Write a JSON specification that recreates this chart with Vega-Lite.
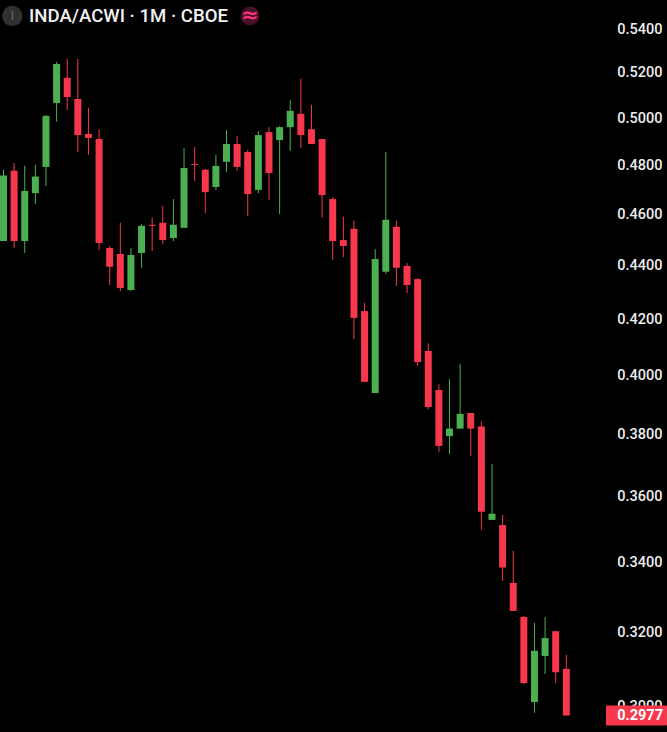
{
  "$schema": "https://vega.github.io/schema/vega-lite/v6.json",
  "width": 667,
  "height": 732,
  "padding": 0,
  "autosize": {"type": "none"},
  "background": "#000000",
  "config": {"view": {"stroke": null}},
  "datasets": {
    "candles": [
      {"i":0,"open":0.4494,"high":0.4781,"low":0.4494,"close":0.4757},
      {"i":1,"open":0.4777,"high":0.4809,"low":0.4467,"close":0.4494},
      {"i":2,"open":0.4494,"high":0.4798,"low":0.4448,"close":0.4694},
      {"i":3,"open":0.4685,"high":0.4802,"low":0.4641,"close":0.4753},
      {"i":4,"open":0.4793,"high":0.5014,"low":0.4714,"close":0.5010},
      {"i":5,"open":0.5066,"high":0.5250,"low":0.4985,"close":0.5241},
      {"i":6,"open":0.5179,"high":0.5264,"low":0.5036,"close":0.5093},
      {"i":7,"open":0.5084,"high":0.5264,"low":0.4855,"close":0.4927},
      {"i":8,"open":0.4932,"high":0.5045,"low":0.4843,"close":0.4915},
      {"i":9,"open":0.4910,"high":0.4952,"low":0.4459,"close":0.4487},
      {"i":10,"open":0.4467,"high":0.4475,"low":0.4326,"close":0.4395},
      {"i":11,"open":0.4444,"high":0.4566,"low":0.4303,"close":0.4315},
      {"i":12,"open":0.4307,"high":0.4467,"low":0.4303,"close":0.4440},
      {"i":13,"open":0.4448,"high":0.4562,"low":0.4391,"close":0.4554},
      {"i":14,"open":0.4558,"high":0.4586,"low":0.4455,"close":0.4554},
      {"i":15,"open":0.4566,"high":0.4633,"low":0.4482,"close":0.4498},
      {"i":16,"open":0.4506,"high":0.4661,"low":0.4494,"close":0.4558},
      {"i":17,"open":0.4546,"high":0.4872,"low":0.4546,"close":0.4788},
      {"i":18,"open":0.4805,"high":0.4876,"low":0.4735,"close":0.4801},
      {"i":19,"open":0.4781,"high":0.4785,"low":0.4605,"close":0.4689},
      {"i":20,"open":0.4710,"high":0.4843,"low":0.4698,"close":0.4797},
      {"i":21,"open":0.4814,"high":0.4948,"low":0.4772,"close":0.4889},
      {"i":22,"open":0.4889,"high":0.4923,"low":0.4777,"close":0.4793},
      {"i":23,"open":0.4855,"high":0.4864,"low":0.4593,"close":0.4681},
      {"i":24,"open":0.4698,"high":0.4944,"low":0.4685,"close":0.4927},
      {"i":25,"open":0.4940,"high":0.4961,"low":0.4657,"close":0.4768},
      {"i":26,"open":0.4906,"high":0.4965,"low":0.4601,"close":0.4961},
      {"i":27,"open":0.4961,"high":0.5080,"low":0.4860,"close":0.5032},
      {"i":28,"open":0.5019,"high":0.5175,"low":0.4872,"close":0.4927},
      {"i":29,"open":0.4952,"high":0.5058,"low":0.4889,"close":0.4889},
      {"i":30,"open":0.4910,"high":0.4910,"low":0.4586,"close":0.4677},
      {"i":31,"open":0.4661,"high":0.4669,"low":0.4421,"close":0.4494},
      {"i":32,"open":0.4498,"high":0.4590,"low":0.4432,"close":0.4475},
      {"i":33,"open":0.4542,"high":0.4574,"low":0.4128,"close":0.4204},
      {"i":34,"open":0.4229,"high":0.4259,"low":0.3977,"close":0.3977},
      {"i":35,"open":0.3939,"high":0.4463,"low":0.3939,"close":0.4425},
      {"i":36,"open":0.4376,"high":0.4855,"low":0.4368,"close":0.4578},
      {"i":37,"open":0.4550,"high":0.4574,"low":0.4322,"close":0.4391},
      {"i":38,"open":0.4398,"high":0.4409,"low":0.4296,"close":0.4326},
      {"i":39,"open":0.4348,"high":0.4352,"low":0.4032,"close":0.4046},
      {"i":40,"open":0.4085,"high":0.4113,"low":0.3884,"close":0.3891},
      {"i":41,"open":0.3949,"high":0.3969,"low":0.3742,"close":0.3762},
      {"i":42,"open":0.3794,"high":0.3986,"low":0.3736,"close":0.3819},
      {"i":43,"open":0.3819,"high":0.4040,"low":0.3819,"close":0.3868},
      {"i":44,"open":0.3871,"high":0.3871,"low":0.3729,"close":0.3819},
      {"i":45,"open":0.3826,"high":0.3843,"low":0.3498,"close":0.3553},
      {"i":46,"open":0.3528,"high":0.3704,"low":0.3528,"close":0.3547},
      {"i":47,"open":0.3512,"high":0.3543,"low":0.3346,"close":0.3385},
      {"i":48,"open":0.3340,"high":0.3434,"low":0.3260,"close":0.3260},
      {"i":49,"open":0.3243,"high":0.3246,"low":0.3059,"close":0.3062},
      {"i":50,"open":0.3012,"high":0.3226,"low":0.2984,"close":0.3149},
      {"i":51,"open":0.3135,"high":0.3243,"low":0.3086,"close":0.3184},
      {"i":52,"open":0.3203,"high":0.3203,"low":0.3062,"close":0.3091},
      {"i":53,"open":0.3100,"high":0.3138,"low":0.2977,"close":0.2977}
    ]
  },
  "layer": [
    {
      "data": {"name": "candles"},
      "mark": {"type": "rule", "strokeWidth": 1, "clip": true},
      "encoding": {
        "x": {
          "field": "i",
          "type": "quantitative",
          "scale": {"domain": [-0.33, 62.48], "nice": false, "zero": false, "padding": 0},
          "axis": null
        },
        "y": {
          "field": "high",
          "type": "quantitative",
          "title": null,
          "scale": {"type": "log", "domain": [0.29347, 0.55401], "nice": false, "zero": false, "padding": 0},
          "axis": {
            "orient": "right",
            "values": [0.30, 0.32, 0.34, 0.36, 0.38, 0.40, 0.42, 0.44, 0.46, 0.48, 0.50, 0.52, 0.54],
            "format": ".4f",
            "grid": false,
            "domain": false,
            "ticks": false,
            "labelAlign": "right",
            "labelPadding": -5,
            "labelFont": "Roboto",
            "labelFontSize": 14.5,
            "labelFontWeight": 500,
            "labelColor": "#EDEDED",
            "labelOverlap": false,
            "labelBound": false
          }
        },
        "y2": {"field": "low"},
        "color": {
          "condition": {"test": "datum.close >= datum.open", "value": "#4CAF50"},
          "value": "#F7374B"
        }
      }
    },
    {
      "data": {"name": "candles"},
      "mark": {"type": "bar", "size": 7, "clip": true},
      "encoding": {
        "x": {"field": "i", "type": "quantitative"},
        "y": {"field": "open", "type": "quantitative"},
        "y2": {"field": "close"},
        "color": {
          "condition": {"test": "datum.close >= datum.open", "value": "#4CAF50"},
          "value": "#F7374B"
        }
      }
    },
    {
      "data": {"values": [{"price": 0.2977, "label": "0.2977"}]},
      "mark": {"type": "bar", "size": 20, "color": "#F7374B", "cornerRadius": 1, "orient": "horizontal"},
      "encoding": {
        "x": {"datum": 56.73, "type": "quantitative"},
        "x2": {"datum": 62.48},
        "y": {"field": "price", "type": "quantitative"}
      }
    },
    {
      "data": {"values": [{"price": 0.2977, "label": "0.2977"}]},
      "mark": {"type": "text", "align": "right", "baseline": "middle", "font": "Roboto", "fontSize": 14.5, "fontWeight": 700, "color": "#FFFFFF"},
      "encoding": {
        "x": {"datum": 62.1, "type": "quantitative"},
        "y": {"field": "price", "type": "quantitative"},
        "text": {"field": "label"}
      }
    },
    {
      "data": {"values": [{"label": "INDA/ACWI · 1M · CBOE"}]},
      "mark": {"type": "text", "align": "left", "baseline": "middle", "font": "Roboto", "fontSize": 18.6, "fontWeight": 500, "color": "#F2F2F2"},
      "encoding": {
        "x": {"datum": 2.4, "type": "quantitative"},
        "y": {"datum": 0.5464, "type": "quantitative"},
        "text": {"field": "label"}
      }
    },
    {
      "data": {"values": [{"label": "I"}]},
      "mark": {"type": "point", "shape": "circle", "filled": true, "size": 415, "color": "#303030", "opacity": 1},
      "encoding": {
        "x": {"datum": 0.83, "type": "quantitative"},
        "y": {"datum": 0.5464, "type": "quantitative"}
      }
    },
    {
      "data": {"values": [{"label": "I"}]},
      "mark": {"type": "text", "align": "center", "baseline": "middle", "font": "Roboto", "fontSize": 12, "color": "#6A6A6A"},
      "encoding": {
        "x": {"datum": 0.83, "type": "quantitative"},
        "y": {"datum": 0.5464, "type": "quantitative"},
        "text": {"field": "label"}
      }
    },
    {
      "data": {"values": [{"label": "≈"}]},
      "mark": {"type": "point", "shape": "circle", "filled": true, "size": 350, "color": "#47112A", "opacity": 1},
      "encoding": {
        "x": {"datum": 23.21, "type": "quantitative"},
        "y": {"datum": 0.5464, "type": "quantitative"}
      }
    },
    {
      "data": {"values": [{"label": "≈"}]},
      "mark": {"type": "text", "align": "center", "baseline": "middle", "font": "DejaVu Sans", "fontSize": 21, "fontWeight": 700, "color": "#F7356F"},
      "encoding": {
        "x": {"datum": 23.21, "type": "quantitative"},
        "y": {"datum": 0.5464, "type": "quantitative"},
        "text": {"field": "label"}
      }
    }
  ]
}
